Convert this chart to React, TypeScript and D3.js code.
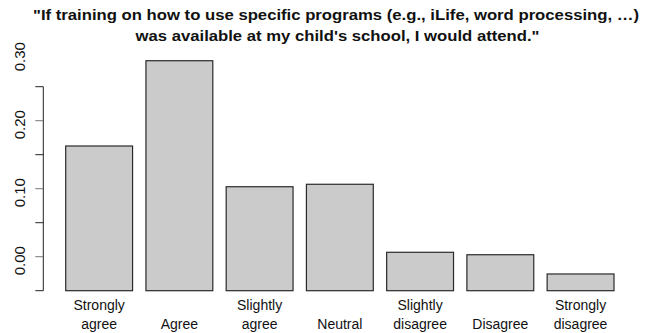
import React from "react";
import * as d3 from "d3";

// Response categories (two-line labels) and the share of each response
const categories = [
  "Strongly agree",
  "Agree",
  "Slightly agree",
  "Neutral",
  "Slightly disagree",
  "Disagree",
  "Strongly disagree",
];
const labelLines: string[][] = [
  ["Strongly", "agree"],
  ["", "Agree"],
  ["Slightly", "agree"],
  ["", "Neutral"],
  ["Slightly", "disagree"],
  ["", "Disagree"],
  ["Strongly", "disagree"],
];
const values = [0.1628, 0.2882, 0.1029, 0.1065, 0.0065, 0.0029, -0.0254];
const tickValues = [-0.05, 0, 0.05, 0.1, 0.15, 0.2, 0.25];
const labelValues = [0, 0.1, 0.2, 0.3];
const titleLines = [
  "\"If training on how to use specific programs (e.g., iLife, word processing, \u2026)",
  "was available at my child's school, I would attend.\"",
];

const W = 648;
const H = 333;
const FONT = "Liberation Sans, Arial, Helvetica, sans-serif";

export default function App() {
  const y = d3.scaleLinear().domain([-0.05, 0.25]).range([290.7, 86.7]);
  const x = d3
    .scaleBand<string>()
    .domain(categories)
    .range([65.7, 614])
    .paddingInner(1 / 6)
    .paddingOuter(0);
  const base = y(-0.05);
  const axisX = 43.3;

  return (
    <svg
      width={W}
      height={H}
      style={{ position: "absolute", left: 0, top: 0, background: "#fff" }}
      fontFamily={FONT}
    >
      {/* title */}
      <g fontWeight="bold" fontSize={15.5} textAnchor="middle" fill="#111">
        <text x={336} y={20} textLength={606} lengthAdjust="spacingAndGlyphs">
          {titleLines[0]}
        </text>
        <text x={337.5} y={41} textLength={404} lengthAdjust="spacingAndGlyphs">
          {titleLines[1]}
        </text>
      </g>

      {/* bars */}
      {values.map((v, i) => (
        <rect
          key={categories[i]}
          x={x(categories[i])}
          y={Math.min(y(v), base)}
          width={x.bandwidth()}
          height={Math.abs(base - y(v))}
          fill="#cbcbcb"
          stroke="#2a2a2a"
          strokeWidth={1.2}
        />
      ))}

      {/* y axis */}
      <line
        x1={axisX}
        x2={axisX}
        y1={y(tickValues[0])}
        y2={y(tickValues[tickValues.length - 1])}
        stroke="#222"
        strokeWidth={1}
      />
      {tickValues.map((t, i) => (
        <line
          key={t}
          x1={axisX - 8}
          x2={axisX}
          y1={y(t)}
          y2={y(t)}
          stroke={i % 2 === 1 ? "#777" : "#222"}
          strokeWidth={1}
        />
      ))}
      {labelValues.map((t) => (
        <text
          key={t}
          transform={`translate(25,${y(t) + 4}) rotate(-90)`}
          textAnchor="middle"
          fontSize={15}
          fill="#111"
        >
          {d3.format(".2f")(t)}
        </text>
      ))}

      {/* category labels */}
      {labelLines.map((lines, i) => {
        const cx = (x(categories[i]) as number) + x.bandwidth() / 2;
        return (
          <g key={categories[i]} textAnchor="middle" fontSize={14} fill="#111">
            {lines[0] && (
              <text x={cx} y={310}>
                {lines[0]}
              </text>
            )}
            <text x={cx} y={328.5}>
              {lines[1]}
            </text>
          </g>
        );
      })}
    </svg>
  );
}
